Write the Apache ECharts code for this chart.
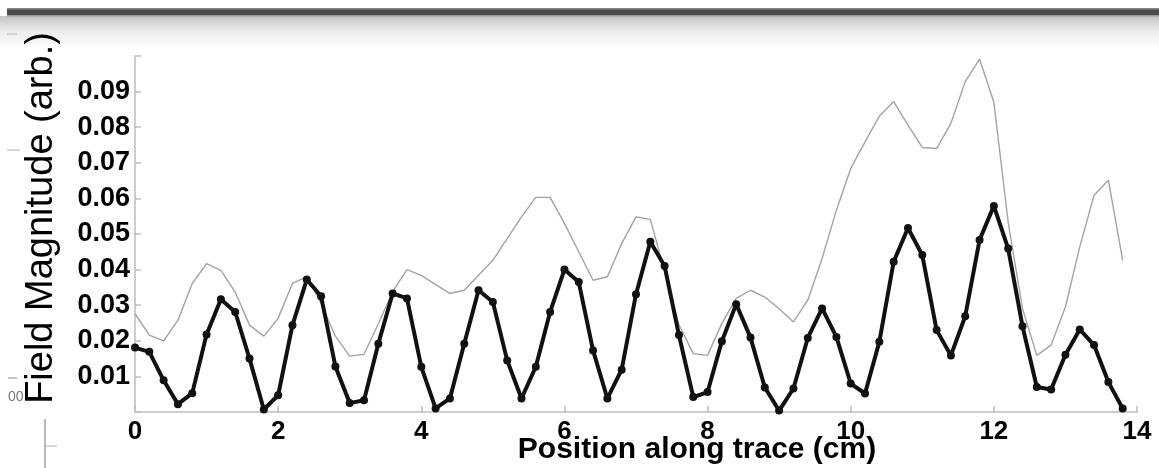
<!DOCTYPE html>
<html>
<head>
<meta charset="utf-8">
<script src="https://cdn.jsdelivr.net/npm/echarts@6/dist/echarts.min.js"></script>
<style>
  html, body { margin: 0; padding: 0; background: #ffffff; }
  #chart { width: 1159px; height: 468px; }
</style>
</head>
<body>
<div id="chart"></div>
<script>
// Sample positions along the trace (cm)
const positionCm = [
  0.0, 0.2, 0.4, 0.6, 0.8, 1.0, 1.2, 1.4, 1.6, 1.8,
  2.0, 2.2, 2.4, 2.6, 2.8, 3.0, 3.2, 3.4, 3.6, 3.8,
  4.0, 4.2, 4.4, 4.6, 4.8, 5.0, 5.2, 5.4, 5.6, 5.8,
  6.0, 6.2, 6.4, 6.6, 6.8, 7.0, 7.2, 7.4, 7.6, 7.8,
  8.0, 8.2, 8.4, 8.6, 8.8, 9.0, 9.2, 9.4, 9.6, 9.8,
  10.0, 10.2, 10.4, 10.6, 10.8, 11.0, 11.2, 11.4, 11.6, 11.8,
  12.0, 12.2, 12.4, 12.6, 12.8, 13.0, 13.2, 13.4, 13.6, 13.8
];

// Thin grey trace (arb.)
const fieldGrey = [
  0.0276, 0.0216, 0.0200, 0.0258, 0.0361, 0.0417, 0.0398, 0.0337, 0.0244, 0.0213,
  0.0263, 0.0361, 0.0380, 0.0305, 0.0213, 0.0157, 0.0162, 0.0248, 0.0338, 0.0400,
  0.0384, 0.0358, 0.0333, 0.0342, 0.0384, 0.0426, 0.0487, 0.0548, 0.0603, 0.0603,
  0.0530, 0.0450, 0.0370, 0.0380, 0.0473, 0.0548, 0.0541, 0.0395, 0.0245, 0.0164,
  0.0159, 0.0249, 0.0319, 0.0342, 0.0323, 0.0290, 0.0253, 0.0314, 0.0431, 0.0567,
  0.0684, 0.0759, 0.0831, 0.0872, 0.0806, 0.0743, 0.0740, 0.0811, 0.0928, 0.0991,
  0.0870, 0.0533, 0.0291, 0.0159, 0.0188, 0.0295, 0.0464, 0.0609, 0.0651, 0.0426
];

// Thick black trace with markers (arb.)
const fieldBlack = [
  0.0181, 0.0169, 0.0089, 0.0022, 0.0053, 0.0218, 0.0317, 0.0281, 0.0150, 0.0007,
  0.0047, 0.0244, 0.0372, 0.0325, 0.0128, 0.0025, 0.0033, 0.0192, 0.0333, 0.0319,
  0.0127, 0.0010, 0.0038, 0.0192, 0.0342, 0.0309, 0.0145, 0.0038, 0.0127, 0.0281,
  0.0400, 0.0365, 0.0173, 0.0038, 0.0119, 0.0331, 0.0478, 0.0410, 0.0216, 0.0042,
  0.0056, 0.0199, 0.0303, 0.0209, 0.0069, 0.0004, 0.0066, 0.0208, 0.0291, 0.0211,
  0.0080, 0.0052, 0.0197, 0.0422, 0.0517, 0.0441, 0.0230, 0.0159, 0.0269, 0.0483,
  0.0579, 0.0459, 0.0241, 0.0070, 0.0063, 0.0161, 0.0232, 0.0188, 0.0084, 0.0010
];

// Axis ranges and tick labels
const xRange = [0, 14];
const xStep = 2;
const yRange = [0, 0.1];
const yStep = 0.01;
const yTickLabels = ['0.01', '0.02', '0.03', '0.04', '0.05', '0.06', '0.07', '0.08', '0.09'];

const xTitle = 'Position along trace (cm)';
const yTitle = 'Field Magnitude (arb.)';

const pairs = (ys) => positionCm.map((x, i) => [x, ys[i]]);

const chart = echarts.init(document.getElementById('chart'), null, { renderer: 'canvas' });

const axisGrey = '#bdbdbd';

chart.setOption({
  animation: false,
  backgroundColor: '#ffffff',
  grid: { left: 135, right: 22, top: 56, bottom: 56 },
  xAxis: {
    type: 'value',
    min: xRange[0],
    max: xRange[1],
    interval: xStep,
    axisLine: { show: true, onZero: false, lineStyle: { color: axisGrey, width: 1.5 } },
    axisTick: { show: true, inside: true, length: 6, lineStyle: { color: axisGrey, width: 1.5 } },
    splitLine: { show: false },
    axisLabel: {
      color: '#000',
      fontFamily: '"Liberation Sans", Arial, sans-serif',
      fontWeight: 'bold',
      fontSize: 26,
      margin: 7,
      showMinLabel: true,
      showMaxLabel: true
    }
  },
  yAxis: {
    type: 'value',
    min: yRange[0],
    max: yRange[1],
    interval: yStep,
    axisLine: { show: true, lineStyle: { color: axisGrey, width: 1.5 } },
    axisTick: { show: true, inside: true, length: 6, lineStyle: { color: axisGrey, width: 1.5 } },
    splitLine: { show: false },
    axisLabel: {
      color: '#000',
      fontFamily: '"Liberation Sans", Arial, sans-serif',
      fontWeight: 'bold',
      fontSize: 27,
      margin: 5,
      padding: [0, 0, 4, 0],
      formatter: (v) => {
        const s = v.toFixed(2);
        return yTickLabels.indexOf(s) >= 0 ? s : '';
      }
    }
  },
  graphic: [
    // dark bar and shading across the top
    { type: 'rect', silent: true, z: 0, shape: { x: 0, y: 16, width: 1159, height: 34 },
      style: { fill: new echarts.graphic.LinearGradient(0, 0, 0, 1, [
        { offset: 0, color: '#c4c4c4' }, { offset: 0.45, color: '#ececec' }, { offset: 1, color: '#ffffff' }
      ]) } },
    { type: 'rect', silent: true, z: 1, shape: { x: 7, y: 8, width: 1152, height: 8 },
      style: { fill: '#4d4b4b' } },
    { type: 'rect', silent: true, z: 1, shape: { x: 7, y: 8, width: 1152, height: 1.5 },
      style: { fill: '#8a8a8a' } },
    { type: 'rect', silent: true, z: 1, shape: { x: 7, y: 15, width: 1152, height: 1.5 },
      style: { fill: '#9a9a9a' } },
    // small marks along the left edge
    { type: 'line', silent: true, shape: { x1: 7, y1: 34, x2: 17, y2: 34 }, style: { stroke: '#c8c8c8', lineWidth: 1.5 } },
    { type: 'line', silent: true, shape: { x1: 7, y1: 150, x2: 20, y2: 150 }, style: { stroke: '#c8c8c8', lineWidth: 1.5 } },
    { type: 'line', silent: true, shape: { x1: 8, y1: 378, x2: 17, y2: 378 }, style: { stroke: '#888', lineWidth: 1 } },
    { type: 'text', silent: true, x: 8, y: 397,
      style: { text: '00', fill: '#777', font: '14px "Liberation Sans", Arial, sans-serif', align: 'left', verticalAlign: 'middle', textAlign: 'left', textVerticalAlign: 'middle' } },
    { type: 'line', silent: true, shape: { x1: 45, y1: 419, x2: 45, y2: 468 }, style: { stroke: '#8c8c8c', lineWidth: 1.2 } },
    { type: 'line', silent: true, shape: { x1: 45, y1: 446, x2: 57, y2: 446 }, style: { stroke: '#b0b0b0', lineWidth: 1 } },
    // axis titles
    { type: 'text', x: 42, y: 218, rotation: Math.PI / 2, z: 10,
      style: { text: yTitle, fill: '#000', font: '38px "Liberation Sans", Arial, sans-serif',
               align: 'center', verticalAlign: 'middle', textAlign: 'center', textVerticalAlign: 'middle' } },
    { type: 'text', x: 697, y: 450, z: 10,
      style: { text: xTitle, fill: '#000', font: 'bold 30px "Liberation Sans", Arial, sans-serif',
               align: 'center', verticalAlign: 'middle', textAlign: 'center', textVerticalAlign: 'middle' } }
  ],
  series: [
    {
      name: 'grey',
      type: 'line',
      data: pairs(fieldGrey),
      showSymbol: false,
      symbol: 'none',
      lineStyle: { color: '#a3a3a3', width: 1.4 },
      z: 2
    },
    {
      name: 'black',
      type: 'line',
      data: pairs(fieldBlack),
      symbol: 'circle',
      symbolSize: 8,
      itemStyle: { color: '#111' },
      lineStyle: { color: '#111', width: 4 },
      z: 3
    }
  ]
});
</script>
</body>
</html>
